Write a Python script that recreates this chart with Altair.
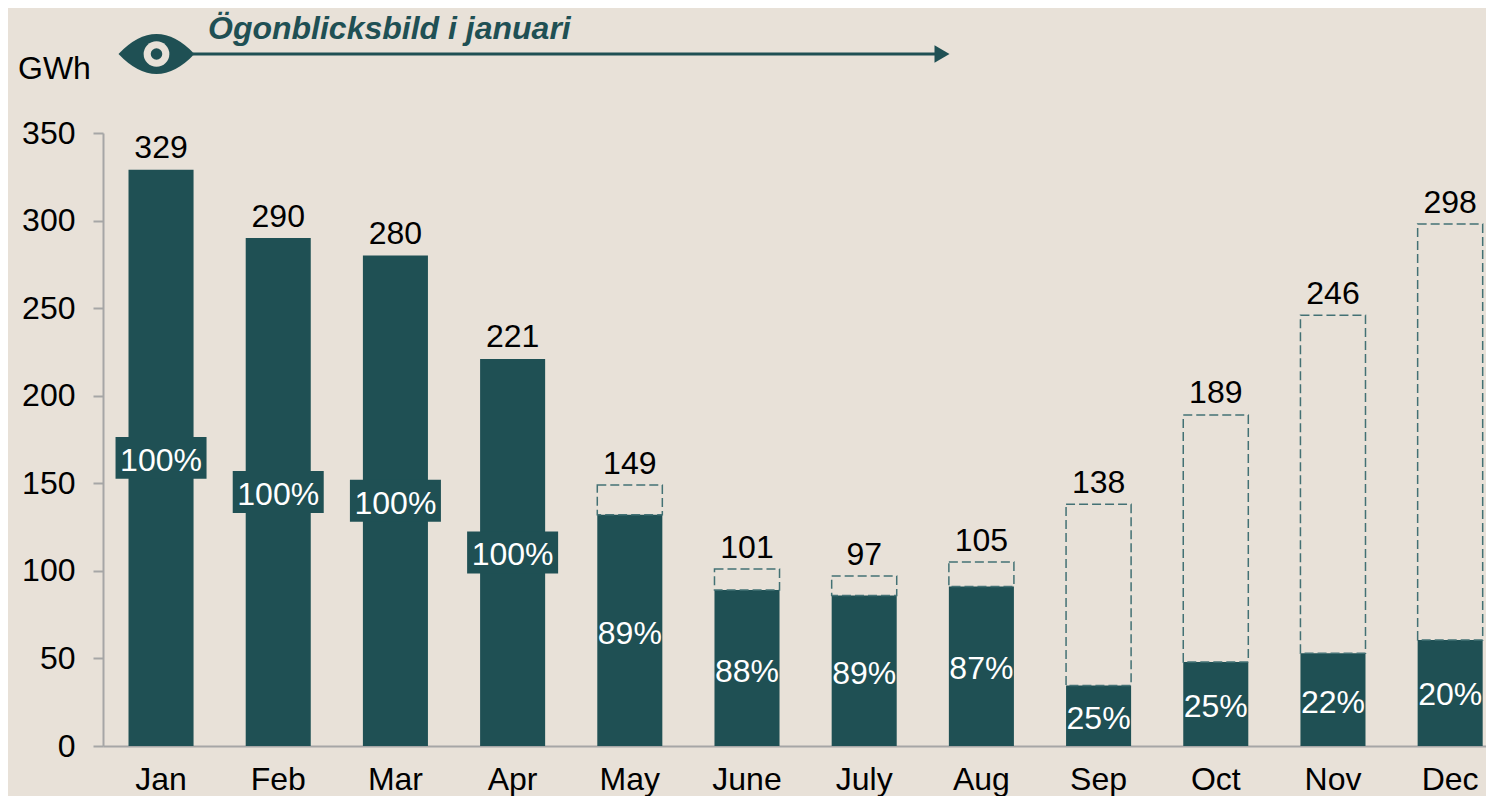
import altair as alt
import pandas as pd

months = ["Jan", "Feb", "Mar", "Apr", "May", "June", "July", "Aug", "Sep", "Oct", "Nov", "Dec"]
totals = [329, 290, 280, 221, 149, 101, 97, 105, 138, 189, 246, 298]
solid = [329, 290, 280, 221, 132, 89, 86, 91, 34.5, 48, 53, 60.5]
shares = ["100%", "100%", "100%", "100%", "89%", "88%", "89%", "87%", "25%", "25%", "22%", "20%"]
box_pos = [164.5, 145, 140, 110.5, 64, 44, 43, 45, 16, 23, 25, 29.5]
label_pos = [163, 143.3, 138.3, 108.8, 64, 42.3, 41.3, 43.9, 15.5, 22.5, 24.5, 29]
title_text = "Ögonblicksbild i januari"
unit_text = "GWh"

BG = "#e8e1d8"
DARK = "#1f5054"
DASH = "#437174"
AXIS = "#a6a6a6"
FONT = "Liberation Sans"
FS = 32

df = pd.DataFrame({"month": months, "total": totals, "solid": solid, "share": shares,
                   "pos": label_pos, "box": box_pos})
df_full = df[df["share"] == "100%"]
df_part = df[df["share"] != "100%"]

x = alt.X("month:N", sort=months, title=None,
          scale=alt.Scale(paddingInner=0.445, paddingOuter=0.123, align=0.885),
          axis=alt.Axis(labelAngle=0, labelFontSize=FS, labelFont=FONT, labelColor="#000000",
                        labelPadding=18, ticks=False, domainColor=AXIS, domainWidth=2))
y_axis = alt.Axis(values=[0, 50, 100, 150, 200, 250, 300, 350], grid=False, tickSize=10, tickColor=AXIS,
                  tickWidth=2, domainColor=AXIS, domainWidth=2, labelFontSize=FS, labelFont=FONT,
                  labelColor="#000000", labelPadding=18)
y_scale = alt.Scale(domain=[0, 350], nice=False)
y = alt.Y("solid:Q", title=None, scale=y_scale, axis=y_axis)
yt = alt.Y("total:Q", title=None, scale=y_scale, axis=y_axis)
yp = alt.Y("pos:Q", title=None, scale=y_scale, axis=y_axis)
yb = alt.Y("box:Q", title=None, scale=y_scale, axis=y_axis)

bars = alt.Chart(df).mark_bar(color=DARK).encode(x=x, y=y)
dashed = alt.Chart(df_part).mark_bar(fillOpacity=0, stroke=DASH, strokeWidth=1.5, strokeDash=[9, 4]).encode(
    x=x, y=yt, y2="solid:Q")
totals_t = alt.Chart(df).mark_text(fontSize=FS, font=FONT, color="#000000", baseline="alphabetic", dy=-11.5).encode(
    x=x, y=yt, text="total:Q")
boxes = alt.Chart(df_full).mark_point(shape="M-1,-0.46H1V0.46H-1Z", filled=True, opacity=1, color=DARK, size=8281).encode(
    x=x, y=yb)
share_t = alt.Chart(df).mark_text(fontSize=FS, font=FONT, color="#ffffff").encode(x=x, y=yp, text="share:N")

# annotation positions are pixels relative to the plot area
ann = pd.DataFrame({"t": [title_text]})
title_m = alt.Chart(ann).mark_text(fontSize=FS, font=FONT, fontWeight="bold", fontStyle="italic", color=DARK,
                                   align="left", baseline="alphabetic").encode(
    x=alt.value(105), y=alt.value(-94), text="t:N")
unit = pd.DataFrame({"t": [unit_text]})
unit_m = alt.Chart(unit).mark_text(fontSize=FS, font=FONT, color="#000000", align="left", baseline="alphabetic").encode(
    x=alt.value(-85), y=alt.value(-54), text="t:N")
line_m = alt.Chart(ann).mark_rule(color=DARK, strokeWidth=3).encode(
    x=alt.value(90), x2=alt.value(835), y=alt.value(-79))
arrow = alt.Chart(ann).mark_point(shape="triangle-right", filled=True, opacity=1, color=DARK, size=300).encode(
    x=alt.value(839), y=alt.value(-79))
eye = alt.Chart(ann).mark_point(shape="M-1,0Q0,-1.05 1,0Q0,1.05 -1,0Z", filled=True, opacity=1, color=DARK, size=5776).encode(
    x=alt.value(53.5), y=alt.value(-79))
ring = alt.Chart(ann).mark_point(shape="circle", filled=True, opacity=1, color=BG, size=660).encode(
    x=alt.value(53.5), y=alt.value(-79))
pupil = alt.Chart(ann).mark_point(shape="circle", filled=True, opacity=1, color=DARK, size=133).encode(
    x=alt.value(53.5), y=alt.value(-79))

chart = alt.layer(bars, dashed, totals_t, boxes, share_t, title_m, unit_m, line_m, arrow, eye, ring, pupil).properties(
    width=1383, height=613, background=BG,
    autosize=alt.AutoSizeParams(type="none"),
    padding={"left": 95, "top": 125, "right": 0, "bottom": 50},
).configure_view(stroke=None)

chart.save("out.html", embed_options={"renderer": "svg", "actions": False})
